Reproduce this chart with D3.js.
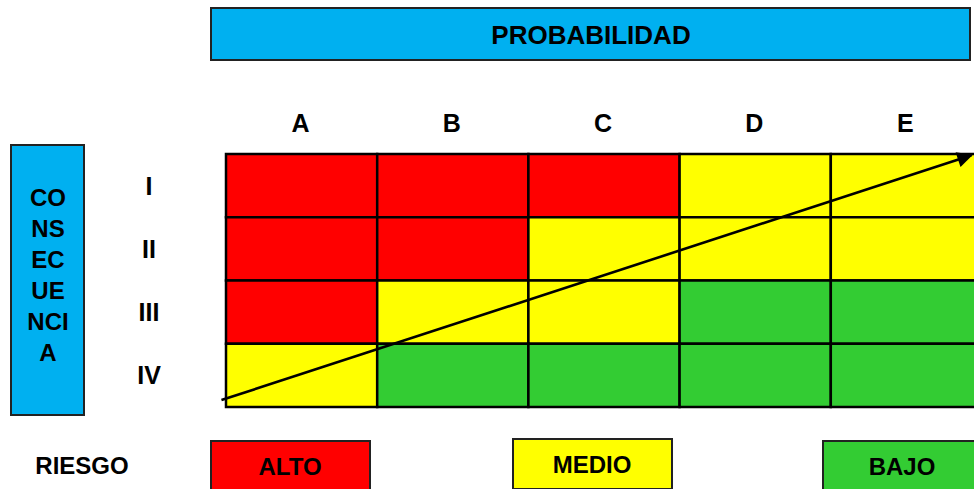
<!DOCTYPE html>
<html><head><meta charset="utf-8">
<script src="https://cdn.jsdelivr.net/npm/d3@7/dist/d3.min.js"></script>
<style>html,body{margin:0;padding:0;background:#fff;overflow:hidden}</style>
</head><body>
<script>
const probabilities = ["A","B","C","D","E"];
const consequences = ["I","II","III","IV"];
const riskRows = [
  ["ALTO","ALTO","ALTO","MEDIO","MEDIO"],
  ["ALTO","ALTO","MEDIO","MEDIO","MEDIO"],
  ["ALTO","MEDIO","MEDIO","BAJO","BAJO"],
  ["MEDIO","BAJO","BAJO","BAJO","BAJO"]
];
const riskLevels = ["ALTO","MEDIO","BAJO"];
const riskColors = ["#FF0000","#FFFF00","#33CC33"];
const consequenceLetters = ["CO","NS","EC","UE","NCI","A"];
// arrow in grid units (columns, rows)
const arrowStart = [-0.03, 3.89];
const arrowEnd = [4.93, 0.02];

const W = 974, H = 489;
const svg = d3.select("body").append("svg").attr("width", W).attr("height", H)
  .style("font-family", "'Liberation Sans', Arial, sans-serif").style("font-weight", "bold");

const x = d3.scaleBand().domain(probabilities).range([226, 982]);
const y = d3.scaleBand().domain(consequences).range([154, 407]);
const xg = d3.scaleLinear().domain([0, probabilities.length]).range([226, 982]);
const yg = d3.scaleLinear().domain([0, consequences.length]).range([154, 407]);
const color = d3.scaleOrdinal().domain(riskLevels).range(riskColors);

// Title box
svg.append("rect").attr("x", 211).attr("y", 8).attr("width", 759).attr("height", 52)
  .attr("fill", "#00B0F0").attr("stroke", "#222").attr("stroke-width", 2);
svg.append("text").attr("x", 591).attr("y", 35).attr("text-anchor", "middle")
  .attr("dominant-baseline", "central").attr("font-size", 26).text("PROBABILIDAD");

// Column letters
svg.selectAll(".colLab").data(probabilities).enter().append("text")
  .attr("x", d => x(d) + x.bandwidth()/2 - 1).attr("y", 123)
  .attr("text-anchor", "middle").attr("dominant-baseline", "central")
  .attr("font-size", 25).text(d => d);

// Row labels
svg.selectAll(".rowLab").data(consequences).enter().append("text")
  .attr("x", 149).attr("y", d => y(d) + y.bandwidth()/2)
  .attr("text-anchor", "middle").attr("dominant-baseline", "central")
  .attr("font-size", 25).text(d => d);

// Consequence box
svg.append("rect").attr("x", 11).attr("y", 145).attr("width", 73).attr("height", 270)
  .attr("fill", "#00B0F0").attr("stroke", "#222").attr("stroke-width", 2);
svg.selectAll(".conLab").data(consequenceLetters).enter().append("text")
  .attr("x", 48).attr("y", (d, i) => 197 + i * 31)
  .attr("text-anchor", "middle").attr("dominant-baseline", "central")
  .attr("font-size", 24).text(d => d);

// Grid cells
const cells = [];
riskRows.forEach((row, ri) => row.forEach((lvl, ci) => cells.push({p: probabilities[ci], c: consequences[ri], lvl})));
svg.selectAll(".cell").data(cells).enter().append("rect")
  .attr("x", d => x(d.p)).attr("y", d => y(d.c))
  .attr("width", x.bandwidth()).attr("height", y.bandwidth())
  .attr("fill", d => color(d.lvl)).attr("stroke", "#000").attr("stroke-width", 2.5);

// Arrow
svg.append("defs").append("marker").attr("id", "arr")
  .attr("viewBox", "0 0 10 10").attr("refX", 9).attr("refY", 5)
  .attr("markerWidth", 7).attr("markerHeight", 6).attr("orient", "auto")
  .attr("markerUnits", "strokeWidth")
  .append("path").attr("d", "M0,0 L10,5 L0,10 Z").attr("fill", "#000");
svg.append("line")
  .attr("x1", xg(arrowStart[0])).attr("y1", yg(arrowStart[1]))
  .attr("x2", xg(arrowEnd[0])).attr("y2", yg(arrowEnd[1]))
  .attr("stroke", "#000").attr("stroke-width", 2.6).attr("marker-end", "url(#arr)");

// Legend
svg.append("text").attr("x", 82).attr("y", 465).attr("text-anchor", "middle")
  .attr("dominant-baseline", "central").attr("font-size", 24).text("RIESGO");
const legendPos = [{x: 211, y: 441, w: 159}, {x: 513, y: 439, w: 159}, {x: 823, y: 441, w: 159}];
const lg = svg.selectAll(".leg").data(riskLevels).enter().append("g");
lg.append("rect").attr("x", (d, i) => legendPos[i].x).attr("y", (d, i) => legendPos[i].y)
  .attr("width", (d, i) => legendPos[i].w).attr("height", 50)
  .attr("fill", d => color(d)).attr("stroke", "#222").attr("stroke-width", 2);
lg.append("text").attr("x", (d, i) => legendPos[i].x + 79).attr("y", (d, i) => legendPos[i].y + 25)
  .attr("text-anchor", "middle").attr("dominant-baseline", "central")
  .attr("font-size", 24).text(d => d);
</script>
</body></html>
